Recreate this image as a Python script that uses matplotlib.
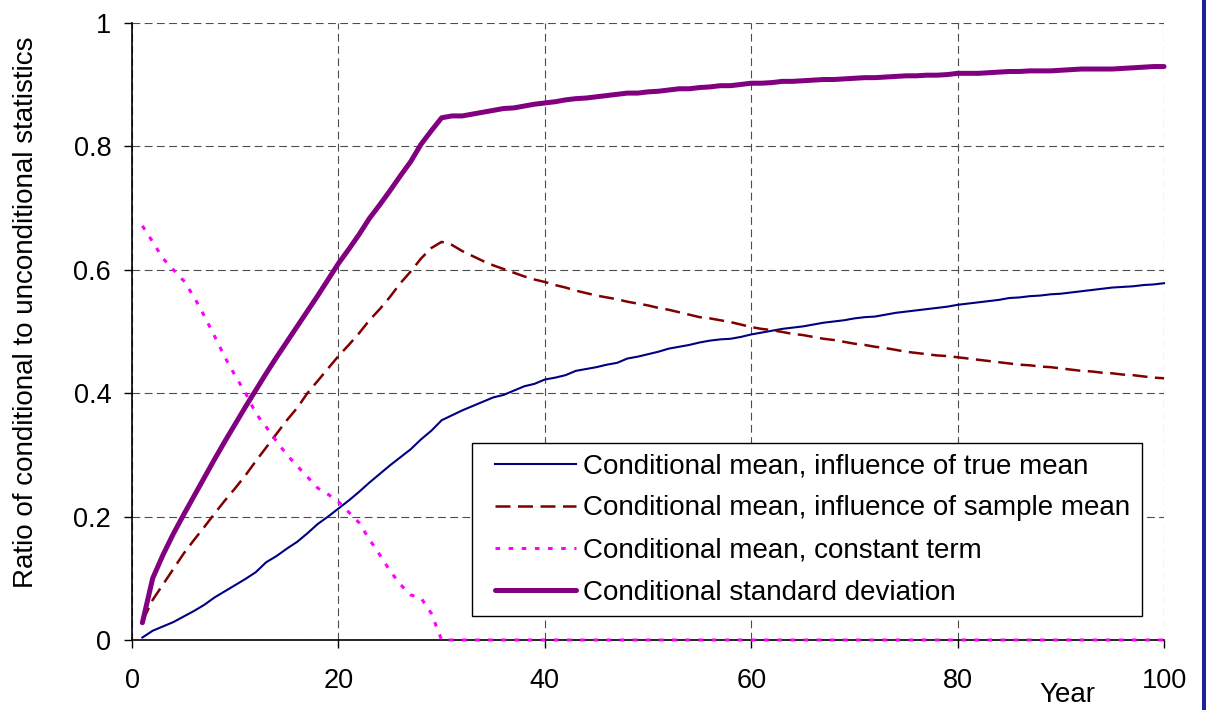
import matplotlib
matplotlib.use('Agg')
import matplotlib.pyplot as plt
from matplotlib.patches import Rectangle

plt.rcParams['font.family'] = ['Liberation Sans', 'DejaVu Sans']

# Jahre 1..100
years = list(range(1, 101))

true_mean = [
    0.004, 0.015, 0.022, 0.029, 0.038, 0.047, 0.057, 0.069, 0.079, 0.089,
    0.099, 0.110, 0.126, 0.136, 0.148, 0.159, 0.173, 0.188, 0.200, 0.213,
    0.226, 0.240, 0.255, 0.269, 0.283, 0.296, 0.309, 0.325, 0.339, 0.356,
    0.364, 0.372, 0.379, 0.386, 0.393, 0.397, 0.404, 0.411, 0.415, 0.422,
    0.425, 0.429, 0.436, 0.439, 0.442, 0.446, 0.449, 0.456, 0.459, 0.463,
    0.467, 0.472, 0.475, 0.478, 0.482, 0.485, 0.487, 0.488, 0.491, 0.495,
    0.498, 0.501, 0.504, 0.506, 0.508, 0.511, 0.514, 0.516, 0.518, 0.521,
    0.523, 0.524, 0.527, 0.530, 0.532, 0.534, 0.536, 0.538, 0.540, 0.543,
    0.545, 0.547, 0.549, 0.551, 0.554, 0.555, 0.557, 0.558, 0.560, 0.561,
    0.563, 0.565, 0.567, 0.569, 0.571, 0.572, 0.573, 0.575, 0.576, 0.578,
]

sample_mean = [
    0.030, 0.065, 0.090, 0.115, 0.140, 0.162, 0.183, 0.205, 0.226, 0.246,
    0.267, 0.290, 0.312, 0.334, 0.356, 0.376, 0.400, 0.420, 0.440, 0.460,
    0.478, 0.497, 0.518, 0.536, 0.556, 0.578, 0.597, 0.618, 0.635, 0.645,
    0.640, 0.630, 0.622, 0.614, 0.607, 0.601, 0.595, 0.589, 0.584, 0.580,
    0.575, 0.571, 0.566, 0.562, 0.558, 0.555, 0.552, 0.548, 0.545, 0.542,
    0.538, 0.535, 0.531, 0.527, 0.523, 0.521, 0.518, 0.515, 0.511, 0.507,
    0.504, 0.502, 0.499, 0.496, 0.494, 0.491, 0.488, 0.486, 0.483, 0.480,
    0.478, 0.475, 0.473, 0.470, 0.467, 0.465, 0.463, 0.461, 0.460, 0.458,
    0.456, 0.454, 0.452, 0.450, 0.448, 0.446, 0.445, 0.443, 0.442, 0.440,
    0.438, 0.436, 0.435, 0.433, 0.432, 0.430, 0.429, 0.427, 0.425, 0.424,
]

constant_term = [
    0.671, 0.645, 0.618, 0.600, 0.582, 0.556, 0.525, 0.492, 0.458, 0.428,
    0.400, 0.367, 0.345, 0.322, 0.300, 0.282, 0.264, 0.246, 0.236, 0.224,
    0.207, 0.190, 0.163, 0.138, 0.112, 0.090, 0.073, 0.068, 0.043, 0.000,
    0.0, 0.0, 0.0, 0.0, 0.0, 0.0, 0.0, 0.0, 0.0, 0.0,
    0.0, 0.0, 0.0, 0.0, 0.0, 0.0, 0.0, 0.0, 0.0, 0.0,
    0.0, 0.0, 0.0, 0.0, 0.0, 0.0, 0.0, 0.0, 0.0, 0.0,
    0.0, 0.0, 0.0, 0.0, 0.0, 0.0, 0.0, 0.0, 0.0, 0.0,
    0.0, 0.0, 0.0, 0.0, 0.0, 0.0, 0.0, 0.0, 0.0, 0.0,
    0.0, 0.0, 0.0, 0.0, 0.0, 0.0, 0.0, 0.0, 0.0, 0.0,
    0.0, 0.0, 0.0, 0.0, 0.0, 0.0, 0.0, 0.0, 0.0, 0.0,
]

std_dev = [
    0.028, 0.100, 0.138, 0.172, 0.203, 0.233, 0.263, 0.293, 0.322, 0.350,
    0.378, 0.405, 0.432, 0.458, 0.483, 0.508, 0.533, 0.558, 0.584, 0.610,
    0.633, 0.657, 0.683, 0.705, 0.728, 0.752, 0.775, 0.803, 0.825, 0.846,
    0.849, 0.849, 0.852, 0.855, 0.858, 0.861, 0.862, 0.865, 0.868, 0.870,
    0.872, 0.875, 0.877, 0.878, 0.880, 0.882, 0.884, 0.886, 0.886, 0.888,
    0.889, 0.891, 0.893, 0.893, 0.895, 0.896, 0.898, 0.898, 0.900, 0.902,
    0.902, 0.903, 0.905, 0.905, 0.906, 0.907, 0.908, 0.908, 0.909, 0.910,
    0.911, 0.911, 0.912, 0.913, 0.914, 0.914, 0.915, 0.915, 0.916, 0.918,
    0.918, 0.918, 0.919, 0.920, 0.921, 0.921, 0.922, 0.922, 0.922, 0.923,
    0.924, 0.925, 0.925, 0.925, 0.925, 0.926, 0.927, 0.928, 0.929, 0.929,
]

labels = [
    'Conditional mean, influence of true mean',
    'Conditional mean, influence of sample mean',
    'Conditional mean, constant term',
    'Conditional standard deviation',
]

x_ticks = [0, 20, 40, 60, 80, 100]
y_ticks = [0, 0.2, 0.4, 0.6, 0.8, 1.0]
y_tick_labels = ['0', '0.2', '0.4', '0.6', '0.8', '1']

fig = plt.figure(figsize=(12.06, 7.10), dpi=100)
ax = fig.add_axes([0.1095, 0.0986, 0.8557, 0.8694])

ax.plot(years, true_mean, color='#000080', lw=1.5, label=labels[0],
        clip_on=False, zorder=3)
ax.plot(years, sample_mean, color='#800000', lw=1.8, linestyle=(0, (6, 3)),
        label=labels[1], clip_on=False, zorder=3)
ax.plot(years, constant_term, color='#FF00FF', lw=2.2, linestyle=(0, (1.5, 2.8)),
        label=labels[2], clip_on=False, zorder=3)
ax.plot(years, std_dev, color='#800080', lw=3.6, label=labels[3],
        clip_on=False, zorder=3, solid_capstyle='round')

ax.set_xlim(0, 100)
ax.set_ylim(0, 1)
ax.set_xticks(x_ticks)
ax.set_yticks(y_ticks)
ax.set_yticklabels(y_tick_labels)
ax.tick_params(axis='both', direction='out', length=6, width=1, labelsize=19.5)
ax.tick_params(axis='x', pad=14)
ax.tick_params(axis='y', pad=9)

ax.grid(True, color='#4d4d4d', lw=0.8, linestyle=(0, (7, 4)))
ax.set_axisbelow(True)
for side in ['top', 'right']:
    ax.spines[side].set_visible(False)
for side in ['left', 'bottom']:
    ax.spines[side].set_linewidth(1.2)
    ax.spines[side].set_zorder(2.5)

ax.set_ylabel('Ratio of conditional to unconditional statistics', fontsize=20,
              va='center')
ax.yaxis.set_label_coords(-0.103, 0.531)
ax.set_xlabel('Year', fontsize=20, va='top')
ax.xaxis.set_label_coords(0.906, -0.068)

# Rahmen der Legende
box = Rectangle((0.329, 0.039), 0.65, 0.280, transform=ax.transAxes,
                facecolor='white', edgecolor='black', lw=1.0, zorder=4)
ax.add_patch(box)
leg = ax.legend(loc='center left', bbox_to_anchor=(0.3517, 0.179),
                frameon=False, fontsize=20, handlelength=2.9,
                handletextpad=0.25, labelspacing=0.58, borderpad=0,
                borderaxespad=0)
leg.set_zorder(5)

# blauer Rand rechts
fig.patches.append(Rectangle((1201.5 / 1206, 0), 1 - 1201.5 / 1206, 1,
                             transform=fig.transFigure, facecolor='#1f1fa0',
                             edgecolor='none'))

fig.savefig('out.png', dpi=100)
